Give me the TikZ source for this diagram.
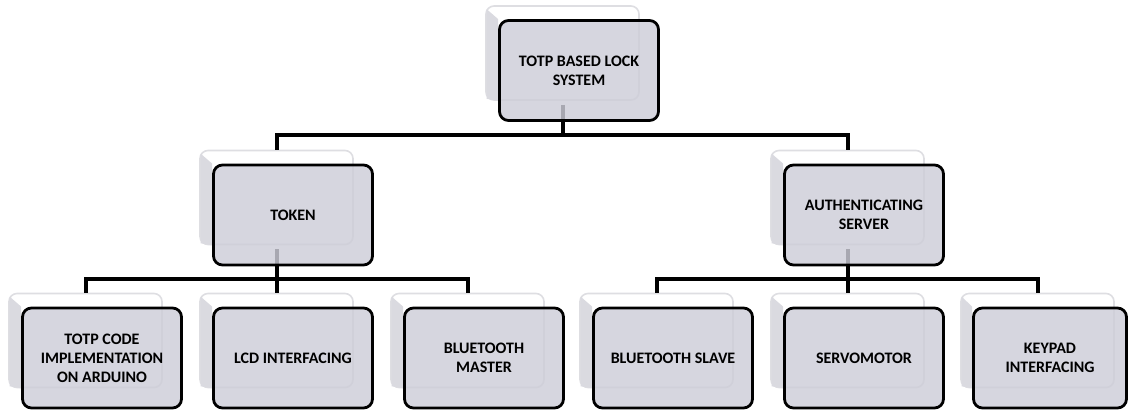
\documentclass[tikz,border=0pt]{standalone}
\usepackage{fontspec}
\setmainfont{Carlito}
\definecolor{frontfill}{RGB}{205,205,216}
\definecolor{backline}{RGB}{222,222,226}
\definecolor{bevelfill}{RGB}{218,218,224}
\pgfdeclarelayer{backs}
\pgfdeclarelayer{conns}
\pgfsetlayers{backs,conns,main}
\tikzset{
  frontbox/.style={draw=black, line width=1.4pt, rounded corners=4.5pt, fill=frontfill,
    fill opacity=0.82, text opacity=1, minimum width=79.5pt, minimum height=50pt,
    align=center, inner sep=0pt, font=\bfseries\fontsize{8}{9.5}\selectfont},
  backbox/.style={draw=backline, line width=0.8pt, rounded corners=4pt, fill=white,
    minimum width=76.5pt, minimum height=47pt, inner sep=0pt},
  conn/.style={line width=2pt, draw=black, line join=miter},
  bevel/.style={fill=bevelfill}
}
\newcommand{\mkunit}[5]{%
  % #1 name, #2 back cx, #3 back cy, #4 text, #5 extra front options
  \begin{pgfonlayer}{backs}
    \node[backbox] (#1b) at (#2,#3) {};
  \end{pgfonlayer}
  \node[frontbox,#5] (#1) at (#2+16.5,#3+17.5) {#4};
  \begin{pgfonlayer}{backs}
    \fill[bevel] ([shift={(1.5,4)}]#1b.north west) -- (#1.north west)
      -- (#1.west |- #1b.south) -- ([shift={(1.5,-2)}]#1b.south west) -- cycle;
  \end{pgfonlayer}
}
\begin{document}
\begin{tikzpicture}[x=0.5pt,y=-0.5pt]
\useasboundingbox (0,0) rectangle (1130,409);
\mkunit{top}{562.5}{53}{TOTP BASED LOCK\\SYSTEM}{}
\mkunit{tok}{276.5}{197.5}{TOKEN}{}
\mkunit{auth}{847.5}{197.5}{AUTHENTICATING\\SERVER}{}
\mkunit{c1}{85.5}{340.5}{TOTP CODE\\IMPLEMENTATION\\ON ARDUINO}{}
\mkunit{c2}{276.5}{340.5}{LCD INTERFACING}{}
\mkunit{c3}{467.5}{340.5}{BLUETOOTH\\MASTER}{}
\mkunit{c4}{656.5}{340.5}{BLUETOOTH SLAVE}{}
\mkunit{c5}{847.5}{340.5}{SERVOMOTOR}{}
\mkunit{c6}{1037.5}{340.5}{KEYPAD\\INTERFACING}{minimum width=76.5pt, xshift=-2pt}
\coordinate (bus1) at (0,135);
\coordinate (bus2) at (0,279);
\begin{pgfonlayer}{conns}
  \draw[conn] ([yshift=8.5pt]topb.center |- top.south) -- (topb.center |- bus1);
  \draw[conn] (tokb.north) -- (tokb.north |- bus1) -- (authb.north |- bus1) -- (authb.north);
  \draw[conn] ([yshift=8.5pt]tokb.center |- tok.south) -- (tokb.center |- bus2);
  \draw[conn] (c1b.north) -- (c1b.north |- bus2) -- (c3b.north |- bus2) -- (c3b.north);
  \draw[conn] (c2b.north |- bus2) -- (c2b.north);
  \draw[conn] ([yshift=8.5pt]authb.center |- auth.south) -- (authb.center |- bus2);
  \draw[conn] (c4b.north) -- (c4b.north |- bus2) -- (c6b.north |- bus2) -- (c6b.north);
  \draw[conn] (c5b.north |- bus2) -- (c5b.north);
\end{pgfonlayer}
\end{tikzpicture}
\end{document}
